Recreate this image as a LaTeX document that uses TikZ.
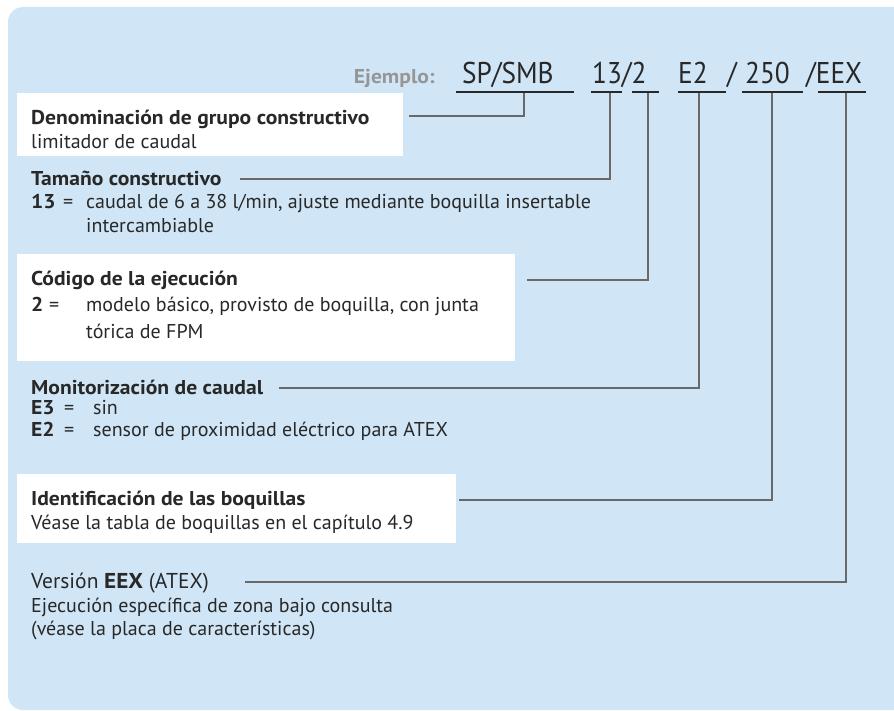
\documentclass[tikz,border=0pt]{standalone}
\usepackage{fontspec}
\setmainfont{PT Sans}[BoldFeatures={FakeStretch=1.08}]
\newfontfamily\codefont{PT Sans}[FakeStretch=0.91]
\definecolor{bgblue}{RGB}{208,230,246}
\definecolor{ink}{RGB}{40,40,40}
\definecolor{linec}{RGB}{105,105,105}
\definecolor{graytxt}{RGB}{150,150,150}
\begin{document}
\begin{tikzpicture}[x=1pt,y=-1pt,
  txt/.style={anchor=base west, inner sep=0pt, text=ink, font=\fontsize{20}{24}\selectfont},
  ttl/.style={txt, font=\fontsize{20}{24}\selectfont\bfseries},
  big/.style={txt, font=\fontsize{21.5}{26}\selectfont},
  code/.style={anchor=base west, inner sep=0pt, text=ink, font=\codefont\fontsize{30}{36}\selectfont},
  uline/.style={draw=ink, line width=2pt},
  conn/.style={draw=linec, line width=1.1pt},
  wbox/.style={fill=white}]
\useasboundingbox (0,0) rectangle (894,711);
\clip (0,0) rectangle (894,711);
\fill[bgblue, rounded corners=15pt] (8,7) rectangle (930,710);
% white boxes
\fill[wbox] (17,93) rectangle (403,156);
\fill[wbox] (17,254) rectangle (515,361);
\fill[wbox] (17,474) rectangle (456,543);
% header
\node[anchor=base east, inner sep=0pt, text=graytxt, font=\fontsize{20}{24}\selectfont\bfseries] (ej) at (435,84) {Ejemplo:};
\node[code] (c1) at (462,84) {SP/SMB};
\node[code] (c2) at (592,84) {13/2};
\node[code] (c3) at (678,84) {E2};
\node[code] (c4) at (727,84) {/};
\node[code] (c5) at (745,84) {250};
\node[code] (c6) at (806,84) {/EEX};
\draw[uline] (456,92) -- (574,92);
\draw[uline] (591,92) -- (622,92);
\draw[uline] (632,92) -- (659,92);
\draw[uline] (678,92) -- (726,92);
\draw[uline] (742,92) -- (803,92);
\draw[uline] (818,92) -- (866,92);
\coordinate (t1) at (524,93);
\coordinate (t2) at (610,93);
\coordinate (t3) at (648,93);
\coordinate (t4) at (699,93);
\coordinate (t5) at (772,93);
\coordinate (t6) at (846,93);
% block 1
\node[ttl] (den) at (31,125) {Denominación de grupo constructivo};
\node[txt] (den2) at (31,149) {limitador de caudal};
% block 2
\node[ttl] (tam) at (31,186) {Tamaño constructivo};
\node[ttl] (tamk) at (31,209) {13};
\node[txt] (tame) at (63,209) {=};
\node[txt] (tam1) at (86,209) {caudal de 6 a 38 l/min, ajuste mediante boquilla insertable};
\node[txt] (tam2) at (86,233) {intercambiable};
% block 3
\node[ttl] (cod) at (31,286) {Código de la ejecución};
\node[ttl] (codk) at (31,312) {2};
\node[txt] (code) at (49,312) {=};
\node[txt] (cod1) at (86,312) {modelo básico, provisto de boquilla, con junta};
\node[txt] (cod2) at (86,338) {tórica de FPM};
% block 4
\node[ttl] (mon) at (31,394) {Monitorización de caudal};
\node[ttl] (monk1) at (31,414) {E3};
\node[txt] (mone1) at (64,414) {=};
\node[txt] (mon1) at (93,414) {sin};
\node[ttl] (monk2) at (31,436) {E2};
\node[txt] (mone2) at (64,436) {=};
\node[txt] (mon2) at (93,436) {sensor de proximidad eléctrico para ATEX};
% block 5
\node[ttl] (ide) at (31,505) {Identificación de las boquillas};
\node[txt] (ide1) at (31,529) {Véase la tabla de boquillas en el capítulo 4.9};
% block 6
\node[big] (ver) at (31,588) {Versión \textbf{EEX} (ATEX)};
\node[txt] (ver1) at (31,612) {Ejecución específica de zona bajo consulta};
\node[txt] (ver2) at (31,635) {(véase la placa de características)};
% connector starts
\coordinate (s1) at (409,116);
\coordinate (s2) at (240,179);
\coordinate (s3) at (527,280);
\coordinate (s4) at (279,388);
\coordinate (s5) at (459,500);
\coordinate (s6) at (245,582);
\draw[conn] (t1) |- (s1);
\draw[conn] (t2) |- (s2);
\draw[conn] (t3) |- (s3);
\draw[conn] (t4) |- (s4);
\draw[conn] (t5) |- (s5);
\draw[conn] (t6) |- (s6);
\end{tikzpicture}
\end{document}
